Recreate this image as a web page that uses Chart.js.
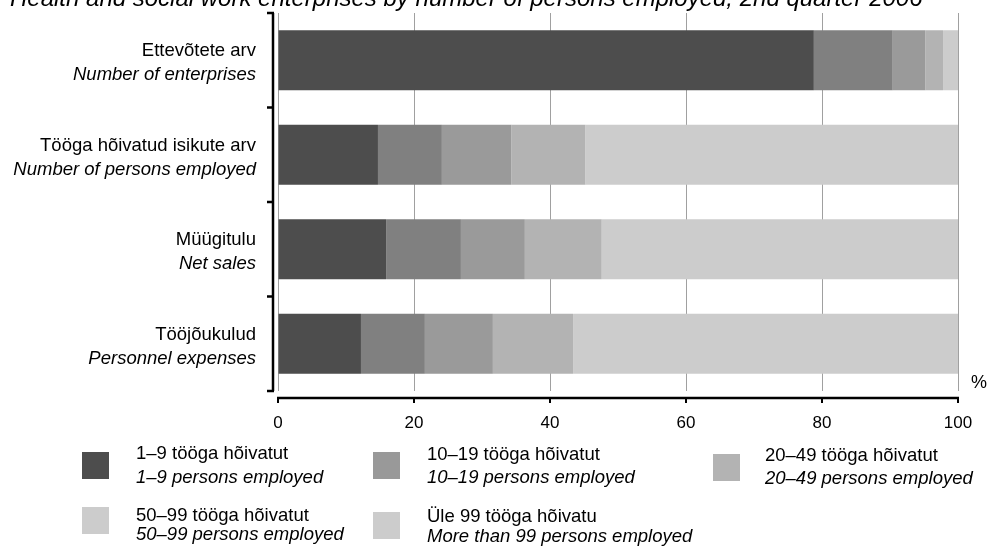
<!DOCTYPE html>
<html>
<head>
<meta charset="utf-8">
<script src="https://cdn.jsdelivr.net/npm/chart.js@4.4.1/dist/chart.umd.min.js"></script>
<style>
  html, body { margin: 0; padding: 0; background: #fff; }
  #wrap { width: 988px; height: 546px; position: relative; }
</style>
</head>
<body>
<div id="wrap"><canvas id="chartBar" width="988" height="546"></canvas></div>
<script>
// kategooriad (eesti / inglise)
const catEt = ['Ettevõtete arv', 'Tööga hõivatud isikute arv', 'Müügitulu', 'Tööjõukulud'];
const catEn = ['Number of enterprises', 'Number of persons employed', 'Net sales', 'Personnel expenses'];

// seeriad
const seriesEt = ['1–9 tööga hõivatut', '10–19 tööga hõivatut', '20–49 tööga hõivatut', '50–99 tööga hõivatut', 'Üle 99 tööga hõivatu'];
const seriesEn = ['1–9 persons employed', '10–19 persons employed', '20–49 persons employed', '50–99 persons employed', 'More than 99 persons employed'];

// osakaalud, %
const size1to9   = [78.8, 14.7, 15.9, 12.2];
const size10to19 = [11.6,  9.4, 11.0,  9.4];
const size20to49 = [ 4.8, 10.2,  9.4, 10.0];
const size50to99 = [ 2.6, 10.9, 11.3, 11.8];
const sizeOver99 = [ 2.2, 54.8, 52.4, 56.6];

const xTicks = [0, 20, 40, 60, 80, 100];

const barColors = ['#4d4d4d', '#808080', '#9a9a9a', '#b3b3b3', '#cccccc'];
const legendColors = ['#4d4d4d', '#999999', '#b3b3b3', '#cccccc', '#cccccc'];

const FONT = "'Liberation Sans', Arial, sans-serif";
const LABEL_SIZE = '18.5px ';

// legendi paigutus (kast + tekstiread)
const legendPos = [
    { x: 82,  y: 452, tx: 136, b1: 459, b2: 483 },
    { x: 373, y: 452, tx: 427, b1: 460, b2: 483 },
    { x: 713, y: 454, tx: 765, b1: 461, b2: 484 },
    { x: 82,  y: 507, tx: 136, b1: 521, b2: 540 },
    { x: 373, y: 512, tx: 427, b1: 522, b2: 542 }
];

const drawExtras = {
    id: 'drawExtras',
    afterDraw(chart) {
        const ctx = chart.ctx;
        const area = chart.chartArea;
        const xs = chart.scales.x;
        const ys = chart.scales.y;
        ctx.save();
        ctx.fillStyle = '#000';
        ctx.strokeStyle = '#000';

        // pealkiri (ülaosa on lõigatud)
        ctx.font = 'italic 24px ' + FONT;
        ctx.textAlign = 'left';
        ctx.textBaseline = 'alphabetic';
        ctx.fillText('Health and social work enterprises by number of persons employed, 2nd quarter 2006', 10, 6);

        // y-telg
        const ax = area.left - 5;
        ctx.lineWidth = 2.5;
        ctx.beginPath();
        ctx.moveTo(ax, area.top);
        ctx.lineTo(ax, area.bottom);
        const n = catEt.length;
        for (let i = 0; i <= n; i++) {
            const yy = area.top + i * (area.bottom - area.top) / n;
            ctx.moveTo(ax + 1, yy);
            ctx.lineTo(ax - 6, yy);
        }
        ctx.stroke();

        // x-telg
        const ay = area.bottom + 7;
        ctx.beginPath();
        ctx.moveTo(xs.getPixelForValue(xTicks[0]) - 1, ay);
        ctx.lineTo(xs.getPixelForValue(xTicks[xTicks.length - 1]) + 1, ay);
        ctx.stroke();
        ctx.lineWidth = 2;
        ctx.beginPath();
        xTicks.forEach(v => {
            const px = Math.round(xs.getPixelForValue(v));
            ctx.moveTo(px, ay);
            ctx.lineTo(px, ay + 5);
        });
        ctx.stroke();

        // kategooriate nimed
        ctx.textAlign = 'right';
        catEt.forEach((t, i) => {
            const cy = ys.getPixelForValue(i);
            ctx.font = LABEL_SIZE + FONT;
            ctx.fillText(t, 256, cy - 4);
            ctx.font = 'italic ' + LABEL_SIZE + FONT;
            ctx.fillText(catEn[i], 256, cy + 20);
        });

        // %
        ctx.textAlign = 'center';
        ctx.textBaseline = 'middle';
        ctx.font = '18px ' + FONT;
        ctx.fillText('%', 979, 383);

        // legend
        ctx.textAlign = 'left';
        ctx.textBaseline = 'alphabetic';
        legendPos.forEach((p, i) => {
            ctx.fillStyle = legendColors[i];
            ctx.fillRect(p.x, p.y, 27, 27);
            ctx.fillStyle = '#000';
            ctx.font = LABEL_SIZE + FONT;
            ctx.fillText(seriesEt[i], p.tx, p.b1);
            ctx.font = 'italic ' + LABEL_SIZE + FONT;
            ctx.fillText(seriesEn[i], p.tx, p.b2);
        });
        ctx.restore();
    }
};

document.addEventListener('DOMContentLoaded', () => {
    const values = [size1to9, size10to19, size20to49, size50to99, sizeOver99];
    const datasets = values.map((d, i) => ({
        label: seriesEt[i],
        data: d,
        backgroundColor: barColors[i],
        borderWidth: 0,
        barPercentage: 0.635,
        categoryPercentage: 1
    }));

    const config = {
        type: 'bar',
        data: { labels: catEt, datasets },
        options: {
            indexAxis: 'y',
            responsive: false,
            animation: false,
            layout: { padding: { top: 13, right: 30, left: 0, bottom: 0 } },
            scales: {
                x: {
                    stacked: true,
                    min: 0,
                    max: 100,
                    afterBuildTicks: (s) => { s.ticks = xTicks.map(v => ({ value: v })); },
                    afterFit: (s) => {
                        s.height = 155;
                        s.paddingLeft = 0;
                        s.paddingRight = 0;
                    },
                    grid: { color: '#a0a0a0', lineWidth: 1, drawTicks: false },
                    border: { display: false },
                    ticks: { color: '#000', font: { family: FONT, size: 17 }, padding: 22, maxRotation: 0 }
                },
                y: {
                    stacked: true,
                    afterFit: (s) => { s.width = 278; },
                    grid: { display: false },
                    border: { display: false },
                    ticks: { display: false }
                }
            },
            plugins: {
                legend: { display: false },
                tooltip: { enabled: false },
                title: { display: false }
            }
        },
        plugins: [drawExtras]
    };

    new Chart(document.getElementById('chartBar'), config);
});
</script>
</body>
</html>
